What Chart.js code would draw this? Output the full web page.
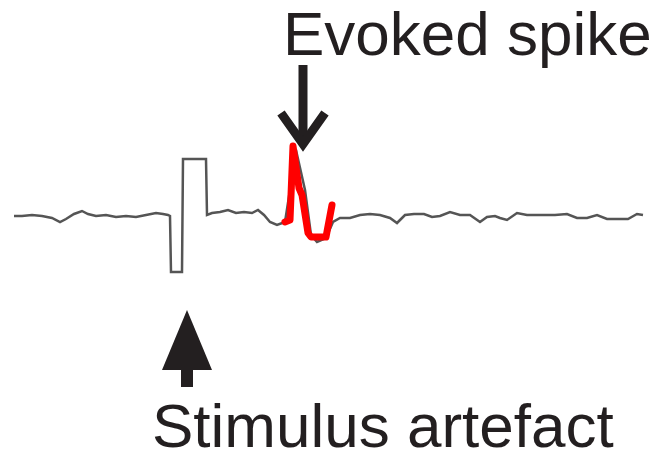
<!DOCTYPE html>
<html>
<head>
<meta charset="utf-8">
<script src="https://cdn.jsdelivr.net/npm/chart.js@4.4.1/dist/chart.umd.min.js"></script>
<style>
    html, body { margin: 0; padding: 0; background: #fff; }
    #wrap { width: 654px; height: 451px; position: relative; }
</style>
</head>
<body>
<div id="wrap"><canvas id="trace"></canvas></div>
<script>
// Recorded trace: time in ms, voltage in µV (baseline = 0)
const traceTime = [0.14, 0.22, 0.32, 0.42, 0.52, 0.60, 0.66, 0.74, 0.82, 0.88, 0.96, 1.06, 1.16, 1.26, 1.36, 1.46,
    1.56, 1.63, 1.68, 1.70, 1.71, 1.82, 1.83, 2.06, 2.07, 2.12, 2.20, 2.28, 2.36, 2.44, 2.52, 2.58, 2.64, 2.70,
    2.77, 2.85, 2.90, 2.92, 2.96, 3.05, 3.11, 3.17, 3.26, 3.33, 3.40, 3.50, 3.60, 3.70, 3.80, 3.90, 3.97, 4.05,
    4.14, 4.24, 4.32, 4.40, 4.50, 4.60, 4.70, 4.80, 4.87, 4.95, 5.00, 5.07, 5.17, 5.27, 5.40, 5.55, 5.67, 5.77,
    5.87, 5.97, 6.07, 6.18, 6.28, 6.37, 6.43];
const traceVolt = [-0.5, -0.5, 0, -0.5, -1.5, -3.5, -2, 0.5, 2, 0.5, -0.5, 0, -1, -0.5, -1, 0,
    1, 0.5, 0, -0.5, -28.5, -28.5, 28, 28, 0, 1, 1.5, 2.5, 1, 1.5, 1, 2.5, 0, -3.5,
    -5, -3.5, 12.5, 33.5, 32.5, 12.5, -10, -13.5, -11.5, -3.5, -1.5, -1.5, 0, 0.5, 0, -1.5, -4, 0,
    0.5, 0.5, -1, -0.5, 1.5, 0, 0, -3.5, -1, -0.5, -1.5, -2.5, 1, 0, 0, 0, 0.5, -1.5,
    -1.5, 0, -2, -2, -2, 0.5, 0];

// Evoked spike, traced over in red
const spikeTime = [2.85, 2.90, 2.93, 2.99, 3.02, 3.08, 3.11, 3.26, 3.32];
const spikeVolt = [-3.5, -2.5, 34.5, 13.5, 10, -9, -11, -11, 5];

// Labels and the points their arrows aim at (ms, µV)
const spikeLabel = 'Evoked spike';
const artefactLabel = 'Stimulus artefact';
const spikeTip = [3.03, 32.5];
const artefactTip = [1.87, -47.5];

const ink = '#231f20';
const labelFont = '62px "Liberation Sans", Arial, sans-serif';

const toPoints = (xs, ys) => xs.map((t, i) => ({ x: t, y: ys[i] }));

// arrows + text drawn on top of the trace
const annotations = {
    id: 'annotations',
    afterDatasetsDraw(chart) {
        const { ctx, scales: { x, y } } = chart;
        ctx.save();
        ctx.fillStyle = ink;
        ctx.strokeStyle = ink;

        // down arrow onto the spike
        const sx = x.getPixelForValue(spikeTip[0]);
        const sy = y.getPixelForValue(spikeTip[1]);
        ctx.lineWidth = 9;
        ctx.lineCap = 'butt';
        ctx.beginPath();
        ctx.moveTo(sx, sy - 85);
        ctx.lineTo(sx, sy - 8);
        ctx.stroke();
        ctx.lineJoin = 'miter';
        ctx.beginPath();
        ctx.moveTo(sx - 22, sy - 37);
        ctx.lineTo(sx, sy - 6);
        ctx.lineTo(sx + 22, sy - 37);
        ctx.stroke();

        // filled up arrow under the artefact
        const ax = x.getPixelForValue(artefactTip[0]);
        const ay = y.getPixelForValue(artefactTip[1]);
        ctx.beginPath();
        ctx.moveTo(ax, ay);
        ctx.lineTo(ax + 25, ay + 60);
        ctx.lineTo(ax - 25, ay + 60);
        ctx.closePath();
        ctx.fill();
        ctx.fillRect(ax - 6, ay + 58, 12, 19);

        ctx.font = labelFont;
        ctx.textAlign = 'left';
        ctx.textBaseline = 'alphabetic';
        ctx.fillText(spikeLabel, sx - 20, sy - 95);
        ctx.fillText(artefactLabel, ax - 35, ay + 137);
        ctx.restore();
    }
};

new Chart(document.getElementById('trace'), {
    type: 'line',
    data: {
        datasets: [
            {
                label: 'spike',
                data: toPoints(spikeTime, spikeVolt),
                borderColor: '#ff0000',
                borderWidth: 7,
                borderJoinStyle: 'round',
                borderCapStyle: 'round',
                pointRadius: 0,
                tension: 0,
                order: 0
            },
            {
                label: 'trace',
                data: toPoints(traceTime, traceVolt),
                borderColor: '#555555',
                borderWidth: 2.5,
                borderJoinStyle: 'miter',
                pointRadius: 0,
                tension: 0,
                order: 1
            }
        ]
    },
    options: {
        responsive: true,
        maintainAspectRatio: false,
        animation: false,
        layout: { padding: 0 },
        plugins: {
            legend: { display: false },
            tooltip: { enabled: false }
        },
        scales: {
            x: { type: 'linear', min: 0, max: 6.54, display: false },
            y: { type: 'linear', min: -118, max: 107.5, display: false }
        }
    },
    plugins: [annotations]
});
</script>
</body>
</html>
